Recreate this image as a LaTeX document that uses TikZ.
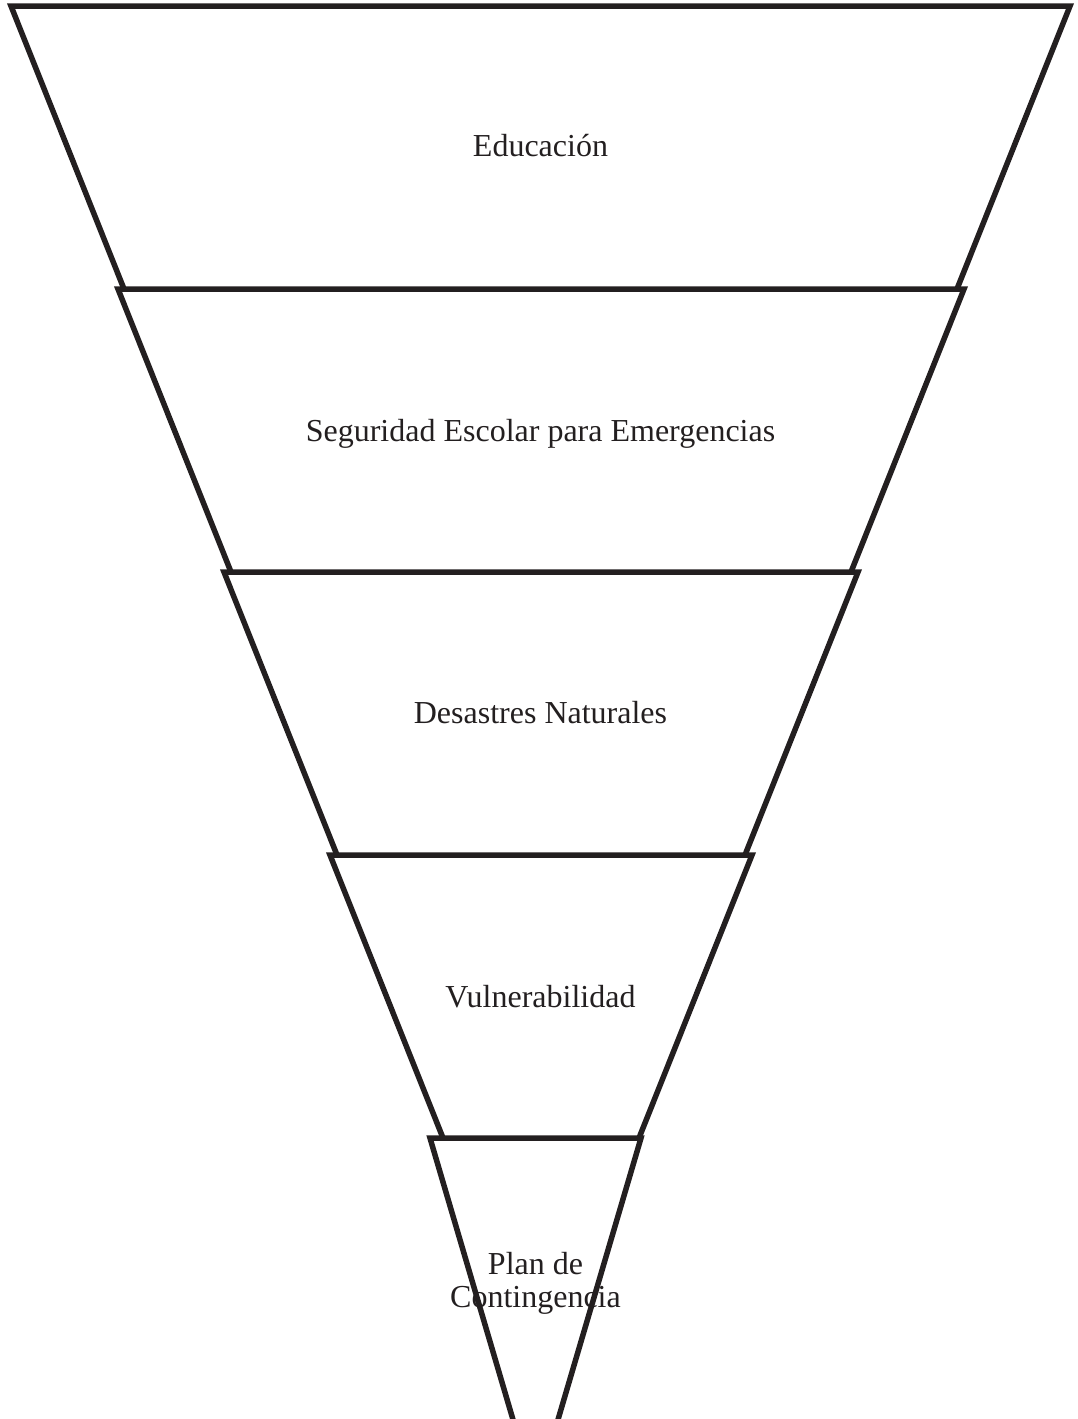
\documentclass[tikz,border=0pt]{standalone}
\usepackage{fontspec}
\setmainfont{Liberation Serif}
\usetikzlibrary{positioning}
\definecolor{ink}{HTML}{231F20}
\tikzset{layer/.style={draw=ink,line width=5.5pt,line join=miter}}
\tikzset{layertext/.style={text=ink,font=\fontsize{32}{33}\selectfont,anchor=base,align=center,inner sep=0pt}}

\begin{document}
\begin{tikzpicture}[x=1pt,y=-1pt]
    \useasboundingbox (0,0) rectangle (1077,1419);
    \clip (0,0) rectangle (1077,1419);
    \node[layertext] (edu) at (540.5,156.7) {Educación};
    \node[layertext] (seg) at (540.5,441)   {Seguridad Escolar para Emergencias};
    \node[layertext] (des) at (540.5,723)   {Desastres Naturales};
    \node[layertext] (vul) at (540.5,1007)  {Vulnerabilidad};
    \node[layertext] (plan) at (535.5,1307) {Plan de\\Contingencia};
    % funnel layers: top y / left x / right x
    \foreach \ty/\lx/\rx in {6/11/1070, 289/118/964, 572/224/858, 855/330/752}
        \draw[layer] (\lx+113,\ty+283) -- (\lx,\ty) -- (\rx,\ty) -- (\rx-113,\ty+283);
    % last one runs off the page
    \draw[layer] (519,1440) -- (430,1138) -- (641,1138) -- (552,1440);
\end{tikzpicture}
\end{document}
